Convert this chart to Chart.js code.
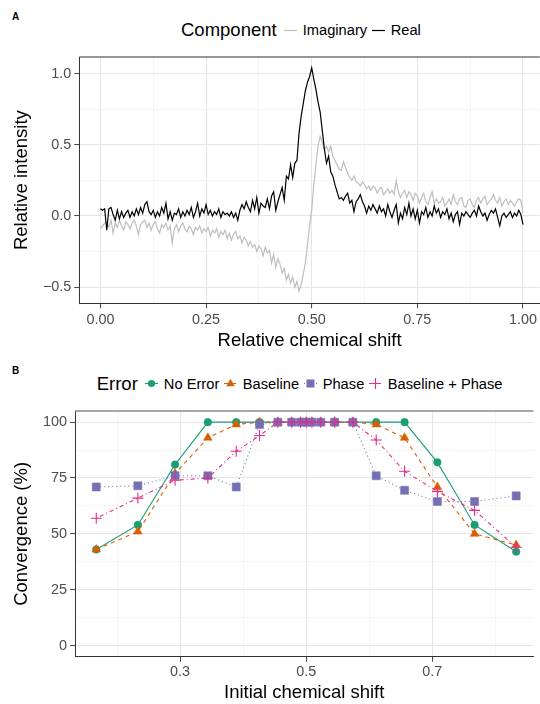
<!DOCTYPE html>
<html>
<head>
<meta charset="utf-8">
<script src="https://cdn.jsdelivr.net/npm/chart.js@4.4.1/dist/chart.umd.min.js"></script>
<style>
  body { margin: 0; background: #fff; font-family: "Liberation Sans", Arial, sans-serif; }
  #wrap { position: relative; width: 540px; height: 704px; overflow: hidden; }
  canvas { position: absolute; left: 0; }
  .tag { position: absolute; left: 12px; font-weight: bold; font-size: 10px; line-height: 10px; }
  .legend { position: absolute; display: flex; align-items: center; white-space: nowrap; transform: translateY(-50%); }
  .legend .title { font-size: 18.5px; color: #000; margin-right: 5.5px; }
  .legend .item { display: flex; align-items: center; font-size: 14.7px; color: #000; margin-right: 3px; }
  .legend svg { margin-right: 3.5px; display: block; }
</style>
</head>
<body>
<div id="wrap">
  <div class="tag" style="top:12px">A</div>
  <div class="legend" id="legendA" style="left:181px; top:30px"></div>
  <canvas id="chartA" width="540" height="352" style="top:0"></canvas>
  <div class="tag" style="top:366px">B</div>
  <div class="legend" id="legendB" style="left:96.7px; top:383.5px"></div>
  <canvas id="chartB" width="540" height="352" style="top:352px"></canvas>
</div>
<script>
// ---- panel A : spectrum, one value every 0.005 of relative shift ----
var shiftStep = 0.005;
var realPart = [
  0.05, 0.04, 0.05, -0.10, 0.05, 0.06, 0.01, -0.03, 0.04, -0.02, 0.03, -0.01, 0.02, 0.04, -0.01, 0.03, 0.00, 0.05, 0.01, 0.06, 0.02,
  0.08, 0.10, 0.03, 0.01, 0.04, -0.01, 0.03, 0.00, 0.06, 0.02, 0.09, -0.02, 0.03, -0.03, 0.02, 0.01, 0.05, -0.01, 0.03, 0.00,
  0.04, 0.01, 0.06, -0.01, 0.03, 0.09, 0.00, 0.05, 0.02, 0.08, 0.01, 0.04, 0.00, 0.03, 0.01, 0.05, -0.01, 0.03, 0.01, 0.02,
  0.00, 0.03, -0.01, 0.02, -0.03, 0.04, 0.08, 0.05, 0.10, 0.06, 0.03, 0.11, 0.05, 0.13, 0.02, 0.09, 0.07,
  0.06, 0.12, 0.05, 0.14, 0.17, 0.04, 0.10, 0.15, 0.20, 0.11, 0.28, 0.26, 0.36, 0.27, 0.37, 0.39, 0.58, 0.70, 0.79, 0.88, 0.94, 0.98, 1.04,
  0.96, 0.89, 0.80, 0.73, 0.60, 0.47, 0.37, 0.42, 0.31, 0.28, 0.22, 0.17, 0.12, 0.13, 0.11, 0.14, 0.16, 0.09, 0.11, 0.03,
  0.10, 0.12, 0.15, 0.10, 0.07, 0.02, 0.07, 0.04, 0.08, 0.05, 0.02, 0.07, 0.03, 0.05, 0.00, 0.08, 0.03, -0.01, 0.04, 0.08,
  -0.05, 0.02, -0.02, 0.06, 0.01, 0.09, 0.00, 0.05, -0.02, 0.04, -0.05, 0.03, 0.01, 0.06, -0.01, 0.03, 0.00, 0.07, 0.02, 0.05,
  -0.01, 0.03, 0.01, 0.05, -0.02, 0.02, -0.04, 0.01, 0.03, -0.06, 0.02, 0.00, 0.03, 0.01, -0.01, 0.02, 0.04, 0.00, 0.07, 0.03,
  0.00, 0.02, -0.03, 0.01, 0.04, 0.02, 0.05, -0.01, -0.07, 0.00, 0.02, -0.01, 0.01, 0.03, -0.01, 0.02, 0.00, 0.04, 0.01, -0.06
];
var imagPart = [
  -0.09, -0.07, -0.05, -0.04, -0.08, -0.03, -0.12, -0.05, -0.08, -0.03, -0.07, -0.10, -0.04, -0.06, -0.09, -0.05, -0.03, -0.07, -0.13, -0.06, -0.04,
  -0.03, -0.08, -0.05, -0.10, -0.06, -0.04, -0.09, -0.12, -0.06, -0.08, -0.05, -0.10, -0.07, -0.19, -0.09, -0.06, -0.11, -0.07, -0.05, -0.09,
  -0.11, -0.07, -0.09, -0.13, -0.08, -0.10, -0.07, -0.12, -0.09, -0.11, -0.08, -0.14, -0.10, -0.12, -0.09, -0.15, -0.11, -0.13, -0.10, -0.16,
  -0.12, -0.17, -0.13, -0.11, -0.16, -0.14, -0.19, -0.15, -0.17, -0.21, -0.18, -0.22, -0.20, -0.25, -0.21, -0.23, -0.28, -0.22, -0.26, -0.24,
  -0.33, -0.27, -0.36, -0.30, -0.34, -0.40, -0.37, -0.45, -0.41, -0.47, -0.43, -0.50, -0.46, -0.53, -0.48, -0.41, -0.33, -0.20, -0.07, 0.04,
  0.22, 0.36, 0.49, 0.56, 0.52, 0.46, 0.49, 0.45, 0.49, 0.42, 0.39, 0.36, 0.33, 0.32, 0.38, 0.34, 0.30, 0.27, 0.25, 0.28,
  0.24, 0.23, 0.21, 0.24, 0.22, 0.19, 0.21, 0.18, 0.21, 0.20, 0.16, 0.19, 0.20, 0.15, 0.17, 0.19, 0.16, 0.18, 0.15, 0.25,
  0.17, 0.13, 0.16, 0.18, 0.13, 0.17, 0.15, 0.11, 0.16, 0.14, 0.09, 0.13, 0.16, 0.10, 0.08, 0.13, 0.17, 0.09, 0.12, 0.09,
  0.10, 0.13, 0.07, 0.09, 0.12, 0.08, 0.15, 0.10, 0.08, 0.12, 0.13, 0.07, 0.06, 0.11, 0.12, 0.08, 0.06, 0.11, 0.13, 0.09,
  0.12, 0.14, 0.08, 0.10, 0.12, 0.15, 0.11, 0.09, 0.13, 0.07, 0.10, 0.12, 0.08, 0.11, 0.09, 0.07, 0.10, 0.12, 0.11, 0.02
];
var components = ['Imaginary', 'Real'];
var xTicksA = [0, 0.25, 0.5, 0.75, 1];
var xLabelsA = ['0.00', '0.25', '0.50', '0.75', '1.00'];
var yTicksA = [-0.5, 0, 0.5, 1];
var yLabelsA = ['\u22120.5', '0.0', '0.5', '1.0'];

// ---- panel B : convergence vs initial shift ----
var shiftB = [0.167, 0.233, 0.292, 0.344, 0.389, 0.426, 0.455, 0.477, 0.491, 0.5, 0.509, 0.523, 0.545, 0.574, 0.611, 0.656, 0.708, 0.767, 0.833];
var noError   = [43, 54, 81, 100, 100, 100, 100, 100, 100, 100, 100, 100, 100, 100, 100, 100, 82, 54, 42];
var baseline  = [43, 51, 77, 93, 99, 100, 100, 100, 100, 100, 100, 100, 100, 100, 99, 93, 71, 50, 45];
var phase     = [71, 71.5, 76, 76, 71, 99, 100, 100, 100, 100, 100, 100, 100, 100, 76, 69.5, 64.5, 64.5, 67];
var basePhase = [57, 66, 74, 75, 87, 94, 100, 100, 100, 100, 100, 100, 100, 100, 92, 78, 69, 60.5, 44];
var errorTypes = ['No Error', 'Baseline', 'Phase', 'Baseline + Phase'];
var xTicksB = [0.3, 0.5, 0.7];
var xLabelsB = ['0.3', '0.5', '0.7'];
var yTicksB = [0, 25, 50, 75, 100];
var yLabelsB = ['0', '25', '50', '75', '100'];

Chart.defaults.font.family = '"Liberation Sans", Arial, sans-serif';
Chart.defaults.animation = false;

function halfway(list) {
    // minor grid lines sit between the major ones (and one step outside)
    var step = list[1] - list[0];
    var out = [list[0] - step / 2];
    list.forEach(function (v) { out.push(v + step / 2); });
    return out;
}

function makeAxis(opts) {
    var majors = opts.ticks, minors = halfway(opts.ticks);
    return {
        type: 'linear',
        min: opts.min,
        max: opts.max,
        afterBuildTicks: function (scale) {
            scale.ticks = majors.concat(minors)
                .filter(function (v) { return v >= opts.min && v <= opts.max; })
                .sort(function (a, b) { return a - b; })
                .map(function (v) { return { value: v }; });
        },
        afterFit: function (scale) {
            if (opts.width) scale.width = opts.width;
            if (opts.height) scale.height = opts.height;
        },
        grid: {
            color: function (c) { return c.tick && majors.indexOf(c.tick.value) >= 0 ? '#E6E6E6' : '#F3F3F3'; },
            lineWidth: function (c) { return c.tick && majors.indexOf(c.tick.value) >= 0 ? 1.1 : 0.8; },
            tickColor: function (c) { return c.tick && majors.indexOf(c.tick.value) >= 0 ? '#444' : 'rgba(0,0,0,0)'; },
            tickLength: 5,
            tickWidth: 1
        },
        border: { display: true, color: '#333', width: 1 },
        ticks: {
            autoSkip: false,
            maxRotation: 0,
            padding: opts.pad,
            color: '#4D4D4D',
            font: { size: 14.4 },
            callback: function (v) {
                var i = majors.indexOf(v);
                return i >= 0 ? opts.labels[i] : '';
            }
        },
        title: {
            display: true,
            text: opts.title,
            color: '#000',
            font: { size: 18.5 },
            padding: { top: opts.titlePad || 0, bottom: 0 }
        }
    };
}

var topBorder = {
    id: 'topBorder',
    afterDraw: function (chart, args, o) {
        var a = chart.chartArea, ctx = chart.ctx;
        ctx.save();
        ctx.strokeStyle = o.color;
        ctx.lineWidth = o.width;
        ctx.beginPath();
        ctx.moveTo(a.left, a.top);
        ctx.lineTo(a.right, a.top);
        ctx.stroke();
        ctx.restore();
    }
};

// ---- chart A ----
var pointsA = function (vals) {
    return vals.map(function (v, i) { return { x: +(i * shiftStep).toFixed(3), y: v }; });
};
var colorsA = ['#BEBEBE', '#000000'];
var chartA = new Chart(document.getElementById('chartA'), {
    type: 'line',
    data: {
        datasets: [
            { label: components[0], data: pointsA(imagPart), borderColor: colorsA[0], borderWidth: 1.2, pointRadius: 0, order: 2 },
            { label: components[1], data: pointsA(realPart), borderColor: colorsA[1], borderWidth: 1.2, pointRadius: 0, order: 1 }
        ]
    },
    options: {
        responsive: false,
        events: [],
        layout: { padding: { top: 57, left: 0, right: 0, bottom: 0 } },
        plugins: { legend: { display: false }, tooltip: { enabled: false }, topBorder: { color: '#333', width: 1 } },
        scales: {
            x: makeAxis({ min: -0.05, max: 1.04, ticks: xTicksA, labels: xLabelsA, title: 'Relative chemical shift', height: 48.7, pad: 3 }),
            y: makeAxis({ min: -0.6135, max: 1.117, ticks: yTicksA, labels: yLabelsA, title: 'Relative intensity', width: 79.3, pad: 3, titlePad: 11 })
        }
    },
    plugins: [topBorder]
});

// ---- chart B ----
var seriesB = [noError, baseline, phase, basePhase];
var colorsB = ['#1B9E77', '#D95F02', '#7570B3', '#E7298A'];
var dashB = [[], [4, 4], [1, 3], [1, 3, 4, 3]];
var shapeB = ['circle', 'triangle', 'rect', 'cross'];
var radiusB = [3.8, 5, 5.7, 5.5];

var chartB = new Chart(document.getElementById('chartB'), {
    type: 'line',
    data: {
        datasets: seriesB.map(function (vals, k) {
            return {
                label: errorTypes[k],
                data: shiftB.map(function (x, i) { return { x: x, y: vals[i] }; }),
                borderColor: colorsB[k],
                backgroundColor: colorsB[k],
                borderWidth: 1.1,
                borderDash: dashB[k],
                pointStyle: shapeB[k],
                pointRadius: radiusB[k],
                pointBackgroundColor: colorsB[k],
                pointBorderColor: colorsB[k],
                pointBorderWidth: k === 3 ? 1.1 : 0.5,
                order: 4 - k
            };
        })
    },
    options: {
        responsive: false,
        events: [],
        layout: { padding: { top: 59, left: 0, right: 0, bottom: 0 } },
        plugins: { legend: { display: false }, tooltip: { enabled: false }, topBorder: { color: '#8A8A8A', width: 1.5 } },
        scales: {
            x: makeAxis({ min: 0.1333, max: 0.8603, ticks: xTicksB, labels: xLabelsB, title: 'Initial chemical shift', height: 47.3, pad: 2 }),
            y: makeAxis({ min: -5, max: 105, ticks: yTicksB, labels: yLabelsB, title: 'Convergence (%)', width: 75, pad: 3, titlePad: 11 })
        }
    },
    plugins: [topBorder]
});

// ---- ggplot-style legends (html, built from the datasets) ----
function keySvg(color, dash, shape) {
    var s = '<svg width="17" height="17" viewBox="0 0 17 17">';
    s += '<line x1="2" y1="8.5" x2="15" y2="8.5" stroke="' + color + '" stroke-width="1.2"' +
        (dash.length ? ' stroke-dasharray="' + dash.join(' ') + '"' : '') + '/>';
    if (shape === 'circle') s += '<circle cx="8.5" cy="8.5" r="3.6" fill="' + color + '"/>';
    if (shape === 'triangle') s += '<polygon points="8.5,3.8 12.8,11.2 4.2,11.2" fill="' + color + '"/>';
    if (shape === 'rect') s += '<rect x="4.5" y="4.5" width="8" height="8" fill="' + color + '"/>';
    if (shape === 'cross') s += '<path d="M8.5 3V14M3 8.5H14" stroke="' + color + '" stroke-width="1.2"/>';
    return s + '</svg>';
}

function buildLegend(el, title, chart, dashes, shapes) {
    var html = '<span class="title">' + title + '</span>';
    chart.data.datasets.forEach(function (ds, k) {
        html += '<span class="item">' + keySvg(ds.borderColor, dashes ? dashes[k] : [], shapes ? shapes[k] : null) +
            '<span>' + ds.label + '</span></span>';
    });
    el.innerHTML = html;
}

buildLegend(document.getElementById('legendA'), 'Component', chartA, null, null);
buildLegend(document.getElementById('legendB'), 'Error', chartB, dashB, shapeB);
</script>
</body>
</html>
